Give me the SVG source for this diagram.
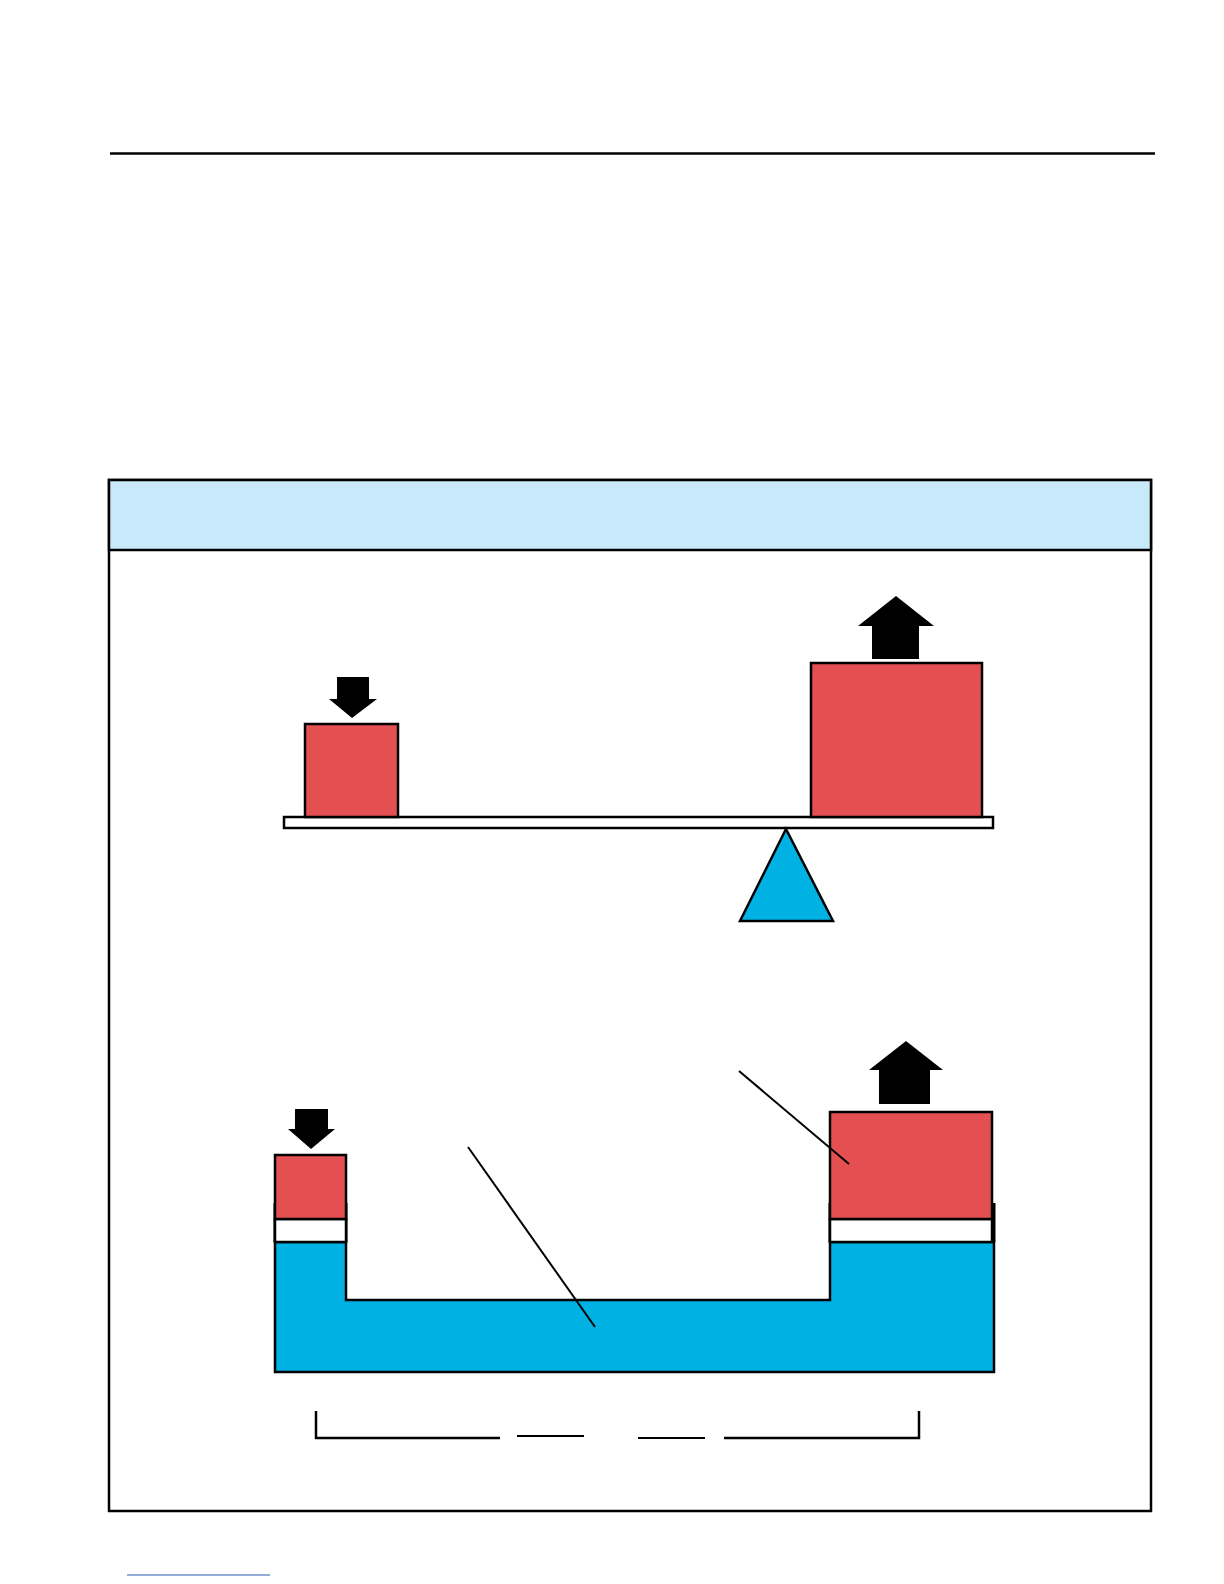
<svg xmlns="http://www.w3.org/2000/svg" width="1224" height="1584" viewBox="0 0 1224 1584">
<style>
.k{stroke:#000;stroke-width:2.5;fill:none}
.red{fill:#E45052;stroke:#000;stroke-width:2.5}
.blu{fill:#00B2E3;stroke:#000;stroke-width:2.5}
.wht{fill:#fff;stroke:#000;stroke-width:2.5}
.arr{fill:#000}
.ln{stroke:#000;stroke-width:2;fill:none}
</style>
<rect width="1224" height="1584" fill="#fff"/>
<line x1="110" y1="153.5" x2="1155" y2="153.5" stroke="#000" stroke-width="2.5"/>
<g id="panel">
<rect x="109" y="480" width="1042" height="1031" fill="#fff" stroke="#000" stroke-width="2.5"/>
<rect x="109" y="480" width="1042" height="70" fill="#C8E9FA" stroke="#000" stroke-width="2.5"/>
</g>
<g id="seesaw">
<rect id="beam" x="284" y="817" width="709" height="11" class="wht"/>
<rect id="small-block" x="305" y="724" width="93" height="93" class="red"/>
<rect id="big-block" x="811" y="663" width="171" height="154" class="red"/>
<polygon id="fulcrum" points="786,829 740,921 833,921" class="blu"/>
<polygon id="arrow-down-1" class="arr" points="337,677 369,677 369,699 377,699 352,718 329,699 337,699"/>
<polygon id="arrow-up-1" class="arr" points="872,659 919,659 919,626 934,626 896,596 858,626 872,626"/>
</g>
<g id="hydraulic">
<path id="fluid" d="M275,1242 H346 V1300 H830 V1242 H994 V1372 H275 Z" class="blu"/>
<line x1="275" y1="1203" x2="275" y2="1242" stroke="#000" stroke-width="3"/>
<line x1="346" y1="1203" x2="346" y2="1242" stroke="#000" stroke-width="3"/>
<line x1="830" y1="1203" x2="830" y2="1242" stroke="#000" stroke-width="3"/>
<line x1="994" y1="1203" x2="994" y2="1242" stroke="#000" stroke-width="3"/>
<rect id="small-piston" x="275" y="1219" width="71" height="23" class="wht"/>
<rect id="small-load" x="275" y="1155" width="71" height="64" class="red"/>
<rect id="big-piston" x="830" y="1219" width="162" height="23" class="wht"/>
<rect id="big-load" x="830" y="1112" width="162" height="107" class="red"/>
<polygon id="arrow-down-2" class="arr" points="295,1109 328,1109 328,1129 335,1129 311,1149 288,1129 295,1129"/>
<polygon id="arrow-up-2" class="arr" points="879,1104 930,1104 930,1070 943,1070 906,1041 869,1070 879,1070"/>
</g>
<g id="connectors">
<line class="ln" x1="468" y1="1147" x2="595" y2="1327"/>
<line class="ln" x1="739" y1="1071" x2="849" y2="1164"/>
<path class="k" d="M316,1411 V1438 H500"/>
<line class="ln" x1="517" y1="1436" x2="584" y2="1436"/>
<line class="ln" x1="638" y1="1438" x2="705" y2="1438"/>
<path class="k" d="M724,1438 H919 V1411"/>
</g>
<line x1="127" y1="1575" x2="270" y2="1575" stroke="#2A5DB0" stroke-width="1.2"/>
</svg>
